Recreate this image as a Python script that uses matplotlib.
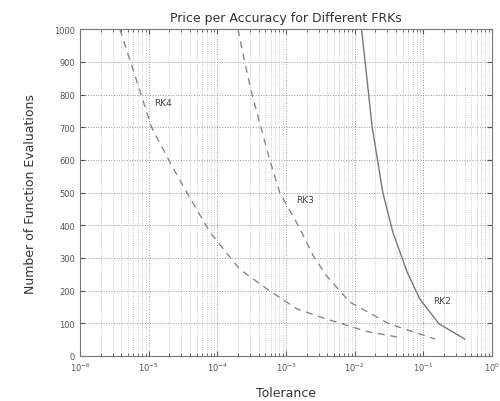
import matplotlib.pyplot as plt

# values
rk4_tol = [3.8e-6, 6.5e-6, 1.1e-5, 2.2e-5, 3.6e-5, 7.8e-5, 2.1e-4, 5.3e-4, 1.44e-3, 3.9e-3, 0.015, 0.05]
rk4_evals = [1000, 850, 700, 580, 500, 379, 266, 205, 144, 113, 75, 55]

rk3_tol = [2e-4, 2.5e-4, 3.2e-4, 5.8e-4, 8.1e-4, 1.5e-3, 2.5e-3, 3.9e-3, 8.5e-3, 0.032, 0.148]
rk3_evals = [1000, 900, 800, 600, 500, 400, 306, 245, 165, 98, 52]

rk2_tol = [0.0126, 0.018, 0.0257, 0.036, 0.058, 0.089, 0.17, 0.40]
rk2_evals = [1000, 700, 500, 379, 257, 174, 98, 52]

labels = ['RK4', 'RK3', 'RK2']
label_x = [1.2e-5, 1.4e-3, 0.138]
label_y = [777, 480, 171]

fig = plt.figure(figsize=(5, 4.02), dpi=100)
ax = fig.add_axes([0.16, 0.112, 0.824, 0.813])

ax.semilogx(rk4_tol, rk4_evals, '--', color='#888888', lw=1.0, dashes=(5, 4))
ax.semilogx(rk3_tol, rk3_evals, '--', color='#888888', lw=1.0, dashes=(5, 4))
ax.semilogx(rk2_tol, rk2_evals, '-', color='#777777', lw=1.0)

for lab, lx, ly in zip(labels, label_x, label_y):
    ax.text(lx, ly, lab, fontsize=6.5, color='#444444', va='center', ha='left')

ax.set_xlim(1e-6, 1)
ax.set_ylim(0, 1000)
ax.set_yticks(range(0, 1001, 100))

ax.grid(True, which='major', axis='both', linestyle=':', color='#999999', lw=0.7)
ax.grid(True, which='minor', axis='x', linestyle=':', color='#bbbbbb', lw=0.6)

ax.tick_params(axis='both', which='both', direction='in', labelsize=6, colors='#555555',
               top=True, right=True)
for s in ax.spines.values():
    s.set_color('#777777')

ax.set_title('Price per Accuracy for Different FRKs', fontsize=9, color='#333333')
ax.set_xlabel('Tolerance', fontsize=9, color='#333333', labelpad=9)
ax.set_ylabel('Number of Function Evaluations', fontsize=9, color='#333333', labelpad=12)

fig.savefig('out.png', dpi=100)
